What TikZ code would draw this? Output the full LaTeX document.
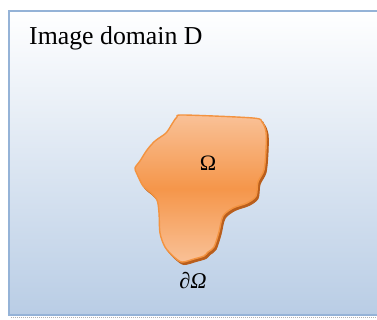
\documentclass[tikz,border=0pt]{standalone}
\usepackage{fontspec}
\setmainfont{Liberation Serif}
\usetikzlibrary{positioning, shadings}
\definecolor{domainedge}{HTML}{95B3D7}
\definecolor{domainbot}{HTML}{B9CDE5}
\definecolor{regionlight}{HTML}{F9C197}
\definecolor{regiondark}{HTML}{F5964A}
\definecolor{regionedge}{HTML}{F39340}
\definecolor{regionshadow}{HTML}{B95E1C}
\tikzset{
  imgdomain/.style={
    draw=domainedge, line width=1.8pt,
    top color=white, bottom color=domainbot
  },
  region/.style={
    draw=regionedge, line width=1.4pt,
    top color=regionlight, bottom color=regionlight, middle color=regiondark
  },
  regshadow/.style={fill=regionshadow, draw=regionshadow, line width=1pt},
  lbl/.style={inner sep=0pt, anchor=base}
}
\begin{document}
\begin{tikzpicture}[x=1pt, y=-1pt]
  \useasboundingbox (0,0) rectangle (377,320);
  \clip (0,0) rectangle (377,320);
  % image domain
  \draw[gray!60, densely dotted, line width=1pt] (11,317) -- (390,317);
  \draw[imgdomain] (9,11) rectangle (390,315);
  \node[lbl, anchor=base west, font=\fontsize{25.8}{28}\selectfont] (dom) at (29,45) {Image domain D};
  % the region Omega, shadow first
  \def\regionpath{plot[smooth cycle, tension=0.5] coordinates {
    (184,115) (253,118) (262,122) (266,132) (266,150) (264,170) (258,182)
    (256,196) (247,203) (233,208) (223,216) (219,232) (214,247) (208,252)
    (204,256) (194,259) (182,262) (174,257) (165,247) (160,233) (159,213)
    (157,200) (150,192) (143,186) (137,174) (135,168) (140,161) (147,150)
    (155,141) (166,133) (172,124) (177,117)}}
  \begin{scope}[xshift=2pt, yshift=-2.5pt]
    \draw[regshadow] \regionpath;
  \end{scope}
  \draw[region] \regionpath;
  \node[lbl, font=\fontsize{22}{24}\selectfont] (omega) at (208,171) {Ω};
  \node[lbl, font=\fontsize{22.5}{24}\selectfont\itshape] (bnd) at (193,288) {∂Ω};
\end{tikzpicture}
\end{document}
